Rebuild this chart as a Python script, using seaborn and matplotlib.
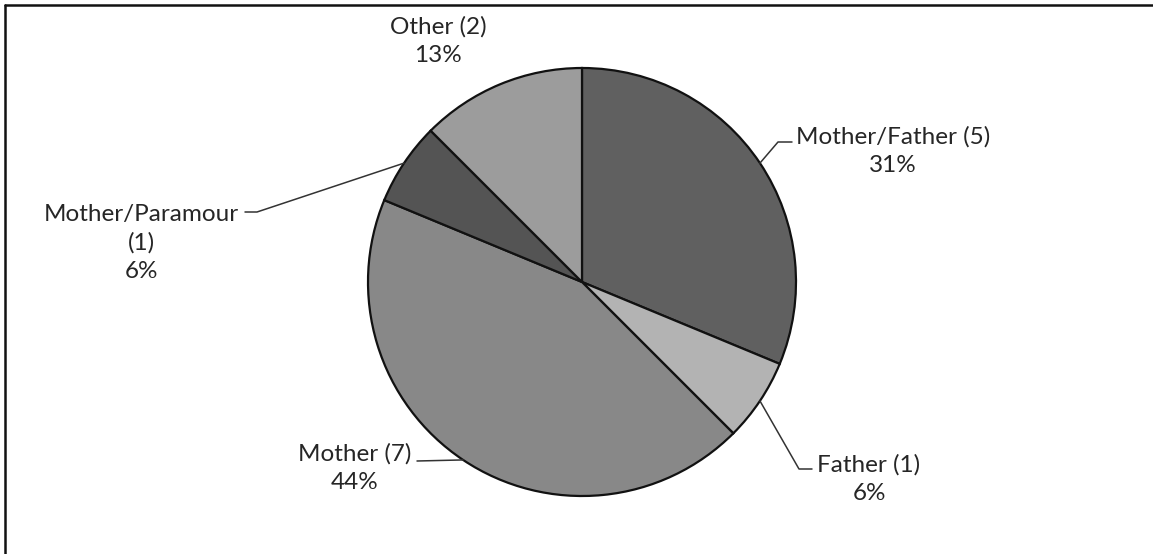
import numpy as np
import seaborn as sns
import matplotlib
matplotlib.use('Agg')
from matplotlib import pyplot as plt
from matplotlib.lines import Line2D

# data
categories = ['Mother/Father', 'Father', 'Mother', 'Mother/Paramour', 'Other']
counts = [5, 1, 7, 1, 2]
percent_labels = ['31%', '6%', '44%', '6%', '13%']
name_labels = ['Mother/Father (5)', 'Father (1)', 'Mother (7)', 'Mother/Paramour\n(1)', 'Other (2)']
grays = ['#606060', '#b3b3b3', '#888888', '#545454', '#9c9c9c']

sns.set_theme(style='white')
plt.rcParams['font.family'] = ['Lato', 'DejaVu Sans']

W, H = 1153, 554
fig = plt.figure(figsize=(W / 100, H / 100), dpi=100)

# pie centre / radius in pixels (from top-left)
cx, cy, r = 582, 282, 214
ax = fig.add_axes([(cx - r) / W, (H - cy - r) / H, 2 * r / W, 2 * r / H])

palette = sns.color_palette(grays)
wedges, _ = ax.pie(counts, colors=palette, startangle=90, counterclock=False,
                   wedgeprops=dict(edgecolor='#111111', linewidth=1.6))
ax.set_xlim(-1, 1)
ax.set_ylim(-1, 1)
ax.set_aspect('equal')
ax.axis('off')


def px(x, y):
    # pixel position -> pie data coords
    return (x - cx) / r, (cy - y) / r


# label block centres (px) and leader elbows (px): layout only
label_pos = [(893, 151), (869, 479), (355, 468), (141, 243), (438, 41)]
elbows = [[(778, 142), (792, 142)],
          [(799, 469), (812, 469)],
          [(417, 461), (417, 461)],
          [(257, 212), (245, 212)],
          None]

total = float(sum(counts))
cum = np.cumsum([0] + counts)
for i, cat in enumerate(categories):
    mid = 90 - 360 * (cum[i] + counts[i] / 2) / total
    ex, ey = np.cos(np.radians(mid)), np.sin(np.radians(mid))
    lx, ly = px(*label_pos[i])
    ax.text(lx, ly, name_labels[i] + '\n' + percent_labels[i], ha='center', va='center',
            fontsize=17.5, color='#262626', linespacing=1.4, clip_on=False)
    if elbows[i] is not None:
        pts = [(ex, ey)] + [px(*p) for p in elbows[i]]
        xs, ys = zip(*pts)
        ax.plot(xs, ys, color='#333333', linewidth=1.1, clip_on=False)

# chart frame (top and left edges visible in the crop)
fig.add_artist(Line2D([5 / W, 1], [1 - 5 / H, 1 - 5 / H], transform=fig.transFigure,
                      color='#111111', linewidth=1.8))
fig.add_artist(Line2D([5 / W, 5 / W], [0, 1 - 5 / H], transform=fig.transFigure,
                      color='#111111', linewidth=1.8))

fig.savefig('out.png', dpi=100, facecolor='white')
